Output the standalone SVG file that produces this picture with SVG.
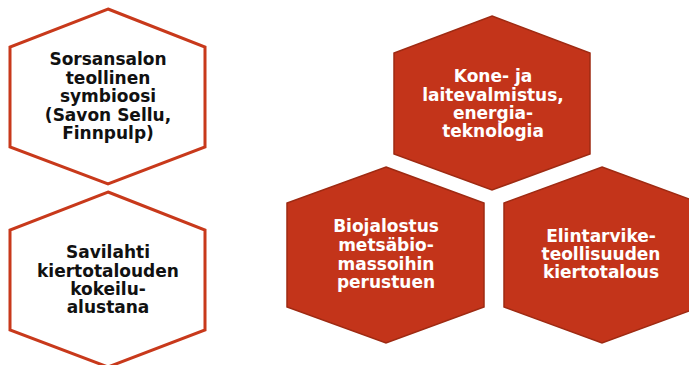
<svg xmlns="http://www.w3.org/2000/svg" width="689" height="365" viewBox="0 0 689 365">
<style>
.hw{fill:#ffffff;stroke:#c8391b;stroke-width:3;stroke-linejoin:miter}
.hr{fill:#c3341a;stroke:#9e2a12;stroke-width:1.5}
text{font-family:"DejaVu Sans",Verdana,sans-serif;font-weight:bold;font-size:17px;text-anchor:middle}
.tb{fill:#111111}
.tw{fill:#ffffff}
</style>
<rect width="689" height="365" fill="#ffffff"/>
<g id="connectors"/>
<g id="n1">
<polygon class="hw" points="108,9 205,47 205,147 108,184 10,147 10,47"/>
<text class="tb" x="108" y="65">Sorsansalon</text>
<text class="tb" x="108" y="84">teollinen</text>
<text class="tb" x="108" y="102">symbioosi</text>
<text class="tb" x="108" y="121">(Savon Sellu,</text>
<text class="tb" x="108" y="139">Finnpulp)</text>
</g>
<g id="n2">
<polygon class="hw" points="108,192 205,230 205,330 108,367 10,330 10,230"/>
<text class="tb" x="108" y="258">Savilahti</text>
<text class="tb" x="108" y="277">kiertotalouden</text>
<text class="tb" x="108" y="295">kokeilu-</text>
<text class="tb" x="108" y="313">alustana</text>
</g>
<g id="n3">
<polygon class="hr" points="492,16 590,53 590,154 492,190 394,154 394,53"/>
<text class="tw" x="493" y="82">Kone- ja</text>
<text class="tw" x="493" y="101">laitevalmistus,</text>
<text class="tw" x="493" y="119">energia-</text>
<text class="tw" x="493" y="137">teknologia</text>
</g>
<g id="n4">
<polygon class="hr" points="386,167 484,203 484,307 386,343 287,307 287,203"/>
<text class="tw" x="386" y="232">Biojalostus</text>
<text class="tw" x="386" y="251">metsäbio-</text>
<text class="tw" x="386" y="270">massoihin</text>
<text class="tw" x="386" y="288">perustuen</text>
</g>
<g id="n5">
<polygon class="hr" points="602,167 700,203 700,307 602,343 504,307 504,203"/>
<text class="tw" x="601" y="242">Elintarvike-</text>
<text class="tw" x="601" y="260">teollisuuden</text>
<text class="tw" x="601" y="278">kiertotalous</text>
</g>
</svg>
